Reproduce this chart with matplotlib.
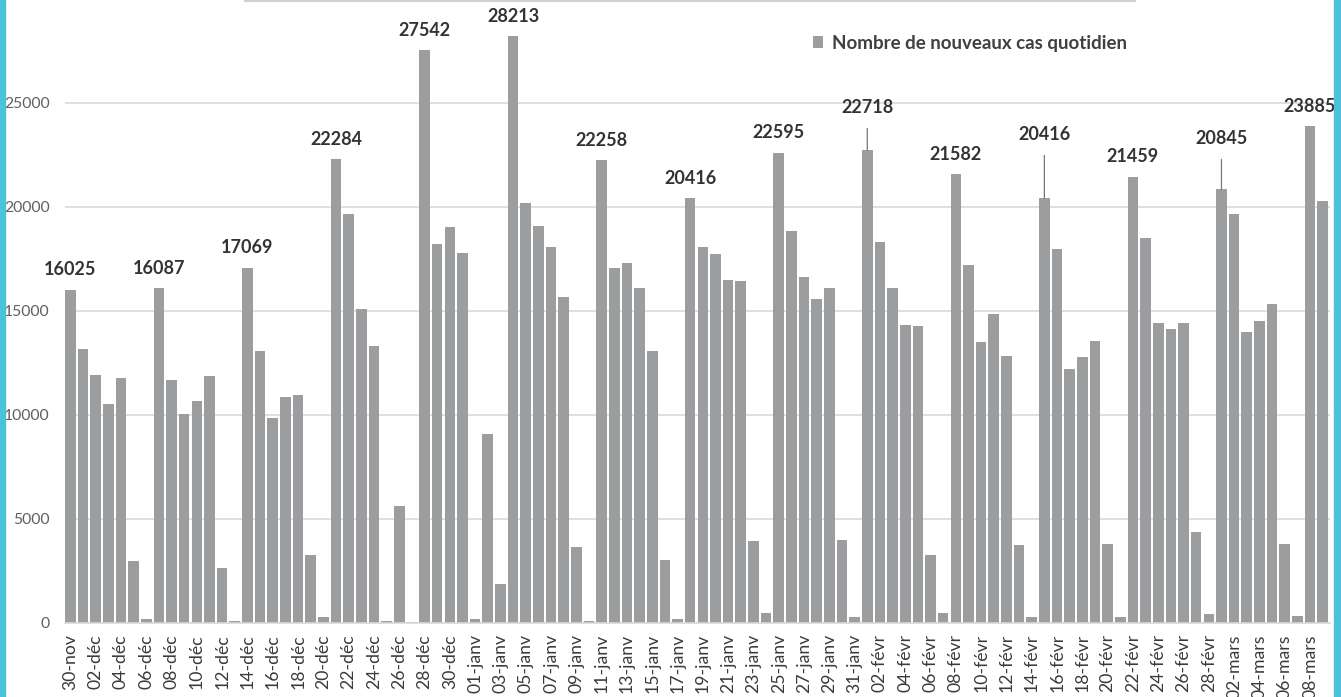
import matplotlib
matplotlib.use("Agg")
import matplotlib.pyplot as plt
from matplotlib.patches import Rectangle
from matplotlib.lines import Line2D

plt.rcParams['font.family'] = ['Lato', 'DejaVu Sans']

# daily new cases, 30-nov -> 09-mars
nov = [16025]
dec = [13170, 11920, 10530, 11780, 2960, 190, 16087, 11670, 10060, 10660,
       11870, 2660, 80, 17069, 13060, 9860, 10850, 10960, 3250, 290,
       22284, 19680, 15080, 13320, 110, 5610, 60, 27542, 18240, 19040, 17780]
janv = [190, 9090, 1860, 28213, 20190, 19100, 18060, 15660, 3640, 80,
        22258, 17080, 17320, 16110, 13060, 3010, 190, 20416, 18060, 17760,
        16470, 16430, 3930, 480, 22595, 18850, 16620, 15580, 16110, 3970, 290]
fevr = [22718, 18300, 16120, 14330, 14260, 3250, 480, 21582, 17210, 13490,
        14860, 12850, 3750, 290, 20416, 17960, 12230, 12800, 13570, 3810,
        290, 21459, 18510, 14440, 14130, 14440, 4390, 420]
mars = [20845, 19650, 13990, 14520, 15340, 3810, 320, 23885, 20290]

months = [("nov", 30, nov), ("déc", 1, dec), ("janv", 1, janv),
          ("févr", 1, fevr), ("mars", 1, mars)]

dates = []
cases = []
for name, first, vals in months:
    for k, v in enumerate(vals):
        dates.append(f"{first + k:02d}-{name}")
        cases.append(v)

# bars that carry a value label (every monday); the ones drawn with a leader line
labelled = [0, 7, 14, 21, 28, 35, 42, 49, 56, 63, 70, 77, 84, 91, 98]
leader = {63: 43, 77: 64, 91: 51}   # label height above bar, px

W, H = 1341, 697
fig = plt.figure(figsize=(W / 100, H / 100), dpi=100)
ax = fig.add_axes([65 / W, 1 - 623 / H, (1330 - 65) / W, 623 / H])

x = list(range(len(cases)))
bar_col = "#9b9d9f"
ax.bar(x, cases, width=0.84, color=bar_col, zorder=2,
       label="Nombre de nouveaux cas quotidien")

ax.set_xlim(-0.42, len(cases) - 0.42)
ax.set_ylim(0, 29950)
ax.set_yticks(range(0, 25001, 5000))
ax.grid(axis="y", color="#d9d9d9", linewidth=1.2, zorder=0)
ax.set_axisbelow(True)
for s in ["top", "right", "left"]:
    ax.spines[s].set_visible(False)
ax.spines["bottom"].set_color("#d9d9d9")
ax.spines["bottom"].set_linewidth(1.2)

ax.set_xticks(x[::2])
ax.set_xticklabels(dates[::2], rotation=90, fontsize=12.7, color="#3a3a3a")
ax.tick_params(axis="x", length=0, pad=8)
ax.tick_params(axis="y", length=0, pad=11, labelsize=11.3, labelcolor="#5f5f5f")

for i in labelled:
    v = cases[i]
    if i in leader:
        off = leader[i]
        ax.annotate(str(v), xy=(i, v), xytext=(0, off * 0.72),
                    textcoords="offset points", ha="center", va="center",
                    fontsize=13, fontweight="bold", color="#333333",
                    arrowprops=dict(arrowstyle="-", color="#777777", lw=0.9,
                                    shrinkA=7, shrinkB=0))
    else:
        ax.annotate(str(v), xy=(i, v), xytext=(0, 20 * 0.72),
                    textcoords="offset points", ha="center", va="center",
                    fontsize=13, fontweight="bold", color="#333333")

ax.legend(loc="center left", bbox_to_anchor=(796 / W, 1 - 43 / H),
          bbox_transform=fig.transFigure, frameon=False,
          handlelength=0.55, handleheight=0.55, handletextpad=0.45,
          prop=dict(size=13.5, weight="bold"), labelcolor="#404040")

# frame decorations
fig.patches.append(Rectangle((0, 0), 5 / W, 1, transform=fig.transFigure,
                             color="#4bc1dc", zorder=5))
fig.patches.append(Rectangle((1 - 7 / W, 0), 7 / W, 1, transform=fig.transFigure,
                             color="#4bc1dc", zorder=5))
fig.lines.append(Line2D([245 / W, 1135 / W], [1 - 1 / H, 1 - 1 / H],
                        transform=fig.transFigure, color="#d0d0d0", lw=1.5))

fig.savefig("out.png", dpi=100)
